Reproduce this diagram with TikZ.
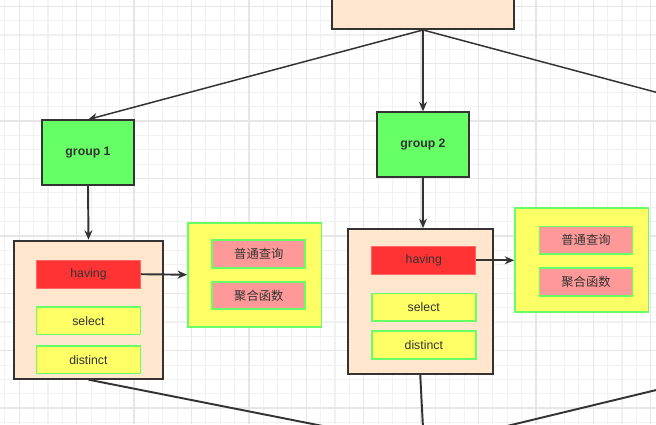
\documentclass[tikz,border=0pt]{standalone}
\usepackage{fontspec}
\setmainfont{Liberation Sans}
\newfontfamily\cjk{Noto Sans CJK SC}
\usetikzlibrary{arrows.meta}
\definecolor{peach}{HTML}{FFE6CC}
\definecolor{lgreen}{HTML}{66FF66}
\definecolor{lyellow}{HTML}{FFFF66}
\definecolor{lred}{HTML}{FF3333}
\definecolor{lredline}{HTML}{FF6666}
\definecolor{lpink}{HTML}{FF9999}
\definecolor{dgray}{HTML}{333333}
\definecolor{gridfine}{HTML}{F1F1F1}
\definecolor{gridmain}{HTML}{E6E6E6}

\begin{document}
\begin{tikzpicture}[x=0.02cm,y=-0.02cm,>={Stealth[length=0.19cm,width=0.16cm]},
    every node/.style={font=\fontsize{7}{8}\selectfont, text=dgray, inner sep=0pt},
    outer/.style={draw=dgray, line width=1.1pt, fill=peach},
    grp/.style={draw=dgray, line width=1.1pt, fill=lgreen, font=\fontsize{7}{8}\selectfont\bfseries,
        minimum width=1.84cm, minimum height=1.29cm},
    hv/.style={draw=lredline, line width=0.5pt, fill=lred, minimum width=2.08cm, minimum height=0.56cm},
    item/.style={draw=lgreen, line width=1pt, fill=lyellow, minimum width=2.08cm, minimum height=0.55cm},
    wrap/.style={draw=lgreen, line width=1pt, fill=lyellow, minimum width=2.67cm, minimum height=2.08cm},
    qbox/.style={draw=lgreen, line width=1pt, fill=lpink, minimum width=1.86cm, minimum height=0.55cm},
    link/.style={draw=dgray, line width=1.1pt}]

    \useasboundingbox (0,0) rectangle (656,424);
    \clip (0,0) rectangle (656,424);
    \fill[white] (0,0) rectangle (656,424);

    % grid
    \foreach \i in {0,...,45} \draw[gridfine, line width=0.6pt] ({4.95+14.35*\i},0) -- ({4.95+14.35*\i},424);
    \foreach \j in {0,...,29} \draw[gridfine, line width=0.6pt] (0,{6.3+14.35*\j}) -- (656,{6.3+14.35*\j});
    \foreach \i in {0,...,11} \draw[gridmain, line width=0.8pt] ({19.3+57.4*\i},0) -- ({19.3+57.4*\i},424);
    \foreach \j in {0,...,7} \draw[gridmain, line width=0.8pt] (0,{6.3+57.4*\j}) -- (656,{6.3+57.4*\j});

    \node[outer, minimum width=3.64cm, minimum height=1.3cm] (top) at (423,-3.5) {};
    \node[grp] (g1) at (88,152.7) {group 1};
    \node[grp] (g2) at (423,144.5) {group 2};
    \coordinate (g3) at (760,120);

    % group 1
    \node[outer, minimum width=2.97cm, minimum height=2.76cm] (c1) at (88.5,309.7) {};
    \node[hv] (hv1) at (88.5,274.2) {having};
    \node[item] (s1) at (88.4,320.8) {select};
    \node[item] (d1) at (88.4,359.8) {distinct};
    \node[wrap] (w1) at (254.7,274.7) {};
    \node[qbox] (q1) at (258.8,254) {\cjk 普通查询};
    \node[qbox] (a1) at (258.8,295.5) {\cjk 聚合函数};

    % group 2
    \node[outer, minimum width=2.9cm, minimum height=2.89cm] (c2) at (420.2,301.3) {};
    \node[hv] (hv2) at (423.8,260.3) {having};
    \node[item] (s2) at (423.8,307.2) {select};
    \node[item] (d2) at (423.8,345) {distinct};
    \node[wrap] (w2) at (581.8,260.3) {};
    \node[qbox] (q2) at (586,240.2) {\cjk 普通查询};
    \node[qbox] (a2) at (586,282) {\cjk 聚合函数};

    \coordinate (c3) at (760,365);
    \coordinate (mrg) at (424,446);

    \draw[link, ->, line width=0.85pt] (top.south) -- (g1.north);
    \draw[link, ->, line width=0.6pt] (top.south) -- (g2.north);
    \draw[link, line width=0.85pt] (top.south) -- (g3);
    \draw[link, ->] (g1.south) -- (c1.north);
    \draw[link, ->, line width=0.6pt] (g2.south) -- (g2.south |- c2.north);
    \draw[link, ->] (hv1.east) -- (w1.west);
    \draw[link, ->] (hv2.east) -- (w2.west);
    \draw[link] (c1.south) -- (mrg);
    \draw[link] (c2.south) -- (mrg);
    \draw[link] (c3) -- (mrg);
\end{tikzpicture}
\end{document}
